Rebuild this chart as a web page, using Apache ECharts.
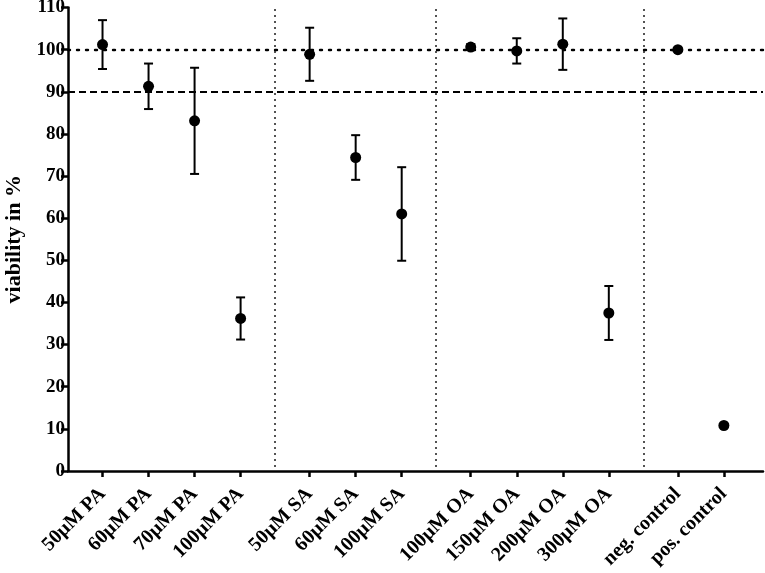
<!DOCTYPE html>
<html>
<head>
<meta charset="utf-8">
<script src="https://cdn.jsdelivr.net/npm/echarts@6/dist/echarts.min.js"></script>
<style>html,body{margin:0;padding:0;background:#fff}#c{width:765px;height:573px}</style>
</head>
<body>
<div id="c"></div>
<script>
const categories = ['50µM PA','60µM PA','70µM PA','100µM PA','50µM SA','60µM SA','100µM SA','100µM OA','150µM OA','200µM OA','300µM OA','neg. control','pos. control'];
const groupSizes = [4, 3, 4, 2];
const means  = [101.2, 91.3, 83.1, 36.2, 98.9, 74.4, 61.0, 100.6, 99.7, 101.3, 37.5, 100.0, 10.8];
const errors = [5.8, 5.4, 12.6, 5.0, 6.3, 5.3, 11.1, 0.7, 3.0, 6.1, 6.4, 0, 0];
const dottedRef = 100;
const dashedRef = 90;

// category positions: one unit per category, extra half unit between groups
const positions = [];
const separators = [];
let idx = 0;
groupSizes.forEach((n, g) => {
  for (let k = 0; k < n; k++) { positions.push(idx + g * 0.5); idx++; }
  if (g < groupSizes.length - 1) separators.push(positions[positions.length - 1] + 0.75);
});

const pointData = categories.map((c, i) => [positions[i], means[i]]);
const errData = categories.map((c, i) => [positions[i], means[i], errors[i]]);
const font = 'Liberation Serif';

const chart = echarts.init(document.getElementById('c'), null, {renderer: 'canvas'});
chart.setOption({
  animation: false,
  grid: {left: 68, right: 2, top: 7.5, bottom: 102, containLabel: false, outerBoundsMode: 'none'},
  xAxis: {
    type: 'value', min: -0.75, max: 14.35,
    splitLine: {show: false},
    axisLine: {onZero: false, lineStyle: {color: '#000', width: 2.5}},
    axisTick: {show: true, customValues: positions, length: 6, lineStyle: {color: '#000', width: 2.5}},
    axisLabel: {
      customValues: positions, rotate: 45, margin: 20,
      color: '#000', fontFamily: font, fontWeight: 'bold', fontSize: 20,
      formatter: v => { const i = positions.findIndex(p => Math.abs(p - v) < 1e-6); return i >= 0 ? categories[i] : ''; }
    }
  },
  yAxis: {
    type: 'value', min: 0, max: 110, interval: 10,
    name: 'viability in %', nameLocation: 'middle', nameRotate: 90, nameGap: 43,
    nameTextStyle: {color: '#000', fontFamily: font, fontWeight: 'bold', fontSize: 22},
    splitLine: {show: false},
    axisLine: {show: true, onZero: false, lineStyle: {color: '#000', width: 2.5}},
    axisTick: {show: true, length: 7, lineStyle: {color: '#000', width: 2.5}},
    axisLabel: {color: '#000', fontFamily: font, fontWeight: 'bold', fontSize: 19, margin: 3}
  },
  series: [
    {
      type: 'custom', z: 3,
      data: errData,
      encode: {x: 0, y: 1},
      renderItem: (params, api) => {
        const x = api.value(0), m = api.value(1), e = api.value(2);
        if (!e) return null;
        const t = api.coord([x, m + e]);
        const b = api.coord([x, m - e]);
        const w = 4.5;
        const st = {stroke: '#000', lineWidth: 2};
        return {type: 'group', children: [
          {type: 'line', shape: {x1: t[0], y1: t[1], x2: b[0], y2: b[1]}, style: st},
          {type: 'line', shape: {x1: t[0] - w, y1: t[1], x2: t[0] + w, y2: t[1]}, style: st},
          {type: 'line', shape: {x1: b[0] - w, y1: b[1], x2: b[0] + w, y2: b[1]}, style: st}
        ]};
      }
    },
    {
      type: 'scatter', z: 4,
      data: pointData,
      symbol: 'circle', symbolSize: 11,
      itemStyle: {color: '#000', opacity: 1},
      markLine: {
        silent: true, symbol: 'none', label: {show: false}, animation: false,
        data: [
          {yAxis: dottedRef, lineStyle: {color: '#000', width: 2.4, type: [2, 7], cap: 'round', opacity: 1}},
          {yAxis: dashedRef, lineStyle: {color: '#000', width: 2, type: [7, 4], opacity: 1}}
        ].concat(separators.map(s => [
          {coord: [s, 1], lineStyle: {color: '#000', width: 1.8, type: [1.6, 4.4], opacity: 1}},
          {coord: [s, 110]}
        ]))
      }
    }
  ]
});
</script>
</body>
</html>
